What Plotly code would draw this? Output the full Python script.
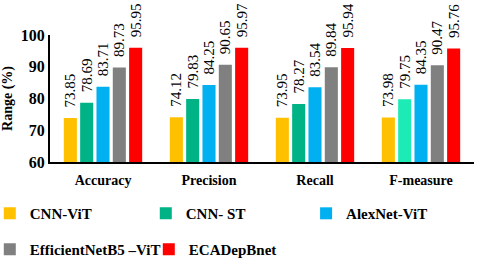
import plotly.graph_objects as go

categories = ["Accuracy", "Precision", "Recall", "F-measure"]
series_names = ["CNN-ViT", "CNN- ST", "AlexNet-ViT", "EfficientNetB5 –ViT", "ECADepBnet"]
cnn_vit = [73.85, 74.12, 73.95, 73.98]
cnn_st = [78.69, 79.83, 78.27, 79.75]
alexnet_vit = [83.71, 84.25, 83.54, 84.35]
effnet_vit = [89.73, 90.65, 89.84, 90.47]
ecadepbnet = [95.95, 95.97, 95.94, 95.76]
y_ticks = [60, 70, 80, 90, 100]

series_values = [cnn_vit, cnn_st, alexnet_vit, effnet_vit, ecadepbnet]
colors = [
    "#FFC000",
    ["#00B386", "#00B386", "#00B386", "#1DEBB5"],
    "#00B0F0",
    "#808080",
    "#FF0000",
]
legend_of = ["legend", "legend", "legend3", "legend2", "legend2"]

FONT = "Liberation Serif"
fig = go.Figure()
for name, vals, col, lg in zip(series_names, series_values, colors, legend_of):
    fig.add_trace(go.Bar(
        x=categories, y=vals, name=name,
        marker=dict(color=col, line=dict(width=0)),
        text=["\u00a0\u00a0" + f"{v:.2f}" for v in vals],
        textposition="outside", textangle=-90,
        textfont=dict(family=FONT, size=15, color="black"),
        constraintext="none", cliponaxis=False,
        legend=lg,
    ))

legend_common = dict(
    orientation="h", xanchor="left", yanchor="top",
    font=dict(family=FONT, size=15, color="black", weight="bold"),
    bgcolor="rgba(0,0,0,0)", borderwidth=0,
    itemwidth=30, entrywidthmode="pixels",
    traceorder="normal", itemclick=False,
)

fig.update_layout(
    width=480, height=260,
    margin=dict(l=50, r=6, t=35, b=98, autoexpand=False),
    paper_bgcolor="white", plot_bgcolor="white",
    barmode="group", bargap=0.23, bargroupgap=0.2,
    font=dict(family=FONT, color="black"),
    legend=dict(x=-0.142, y=-0.276, entrywidth=111, **legend_common),
    legend3=dict(x=0.604, y=-0.276, entrywidth=109, **legend_common),
    legend2=dict(x=-0.142, y=-0.559, entrywidth=114, **legend_common),
    xaxis=dict(
        showline=True, linecolor="black", linewidth=2,
        ticks="", showgrid=False,
        tickfont=dict(family=FONT, size=14, color="black", weight="bold"),
        ticklabelstandoff=4,
    ),
    yaxis=dict(
        range=[60, 100], tickvals=y_ticks,
        showline=True, linecolor="black", linewidth=2,
        ticks="", showgrid=False, zeroline=False,
        tickfont=dict(family=FONT, size=16, color="black", weight="bold"),
        title=dict(text="Range (%)", font=dict(family=FONT, size=14, color="black", weight="bold"), standoff=13),
    ),
)

fig.write_html("out.html", config={"displayModeBar": False},
               post_script="document.body.style.margin='0';")
